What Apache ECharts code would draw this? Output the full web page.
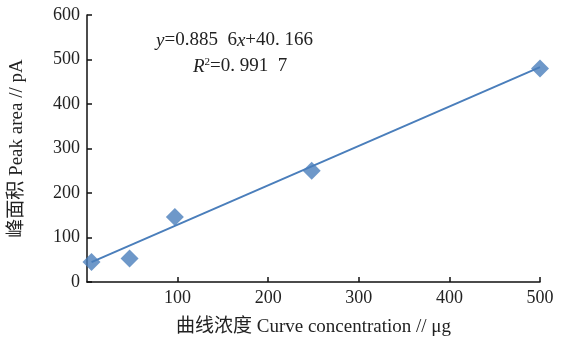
<!DOCTYPE html>
<html><head><meta charset="utf-8">
<script src="https://cdn.jsdelivr.net/npm/echarts@6/dist/echarts.min.js"></script>
<style>html,body{margin:0;padding:0;background:#fff}#c{width:565px;height:339px}</style>
</head><body><div id="c"></div>
<script>
const concentrations = [5, 47, 97, 248, 500];
const peakAreas = [45, 53, 146, 250, 480];
const trendX = [5, 500];
const trendY = [44.6, 483.0];
const xTicks = [0, 100, 200, 300, 400, 500];
const yTicks = [0, 100, 200, 300, 400, 500, 600];
const FONT = '"Liberation Serif", "Noto Sans CJK SC", serif';
const BLUE = '#4a7ebb';

const chart = echarts.init(document.getElementById('c'));
chart.setOption({
  backgroundColor: '#fff',
  animation: false,
  grid: {left: 87, right: 25, top: 15, bottom: 57, containLabel: false, outerBoundsMode: 'none'},
  xAxis: {
    type: 'value', min: 0, max: 500, interval: 100,
    name: '曲线浓度 Curve concentration // μg',
    nameLocation: 'middle', nameGap: 36,
    nameTextStyle: {fontFamily: FONT, fontSize: 19, color: '#222'},
    axisLine: {lineStyle: {color: '#111', width: 1.5}},
    axisTick: {show: true, inside: true, length: 5, lineStyle: {color: '#111', width: 1.5}},
    axisLabel: {fontFamily: FONT, fontSize: 18, color: '#222', margin: 7, showMinLabel: false},
    splitLine: {show: false}
  },
  yAxis: {
    type: 'value', min: 0, max: 600, interval: 100,
    name: '峰面积 Peak area // pA',
    nameLocation: 'middle', nameGap: 60, nameRotate: 90,
    nameTextStyle: {fontFamily: FONT, fontSize: 19, color: '#222'},
    axisLine: {show: true, lineStyle: {color: '#111', width: 1.5}},
    axisTick: {show: true, inside: true, length: 5, lineStyle: {color: '#111', width: 1.5}},
    axisLabel: {fontFamily: FONT, fontSize: 18, color: '#222', margin: 7},
    splitLine: {show: false}
  },
  series: [
    {
      type: 'line', data: trendX.map((x, i) => [x, trendY[i]]),
      symbol: 'none', lineStyle: {color: BLUE, width: 2}, z: 1
    },
    {
      type: 'scatter', data: concentrations.map((x, i) => [x, peakAreas[i]]),
      symbol: 'diamond', symbolSize: 18, itemStyle: {color: BLUE}, z: 2
    }
  ],
  graphic: [
    {
      type: 'text', left: 156, top: 31,
      style: {
        text: '{i|y}=0.885  6{i|x}+40. 166',
        fontFamily: FONT, fontSize: 19, fill: '#222',
        rich: {i: {fontStyle: 'italic', fontFamily: FONT, fontSize: 19}}
      }
    },
    {
      type: 'text', left: 193, top: 57,
      style: {
        text: '{i|R}{s|2}=0. 991  7',
        fontFamily: FONT, fontSize: 19, fill: '#222',
        rich: {
          i: {fontStyle: 'italic', fontFamily: FONT, fontSize: 19},
          s: {fontFamily: FONT, fontSize: 11, verticalAlign: 'top', padding: [0, 0, 8, 0]}
        }
      }
    }
  ]
});
</script></body></html>
